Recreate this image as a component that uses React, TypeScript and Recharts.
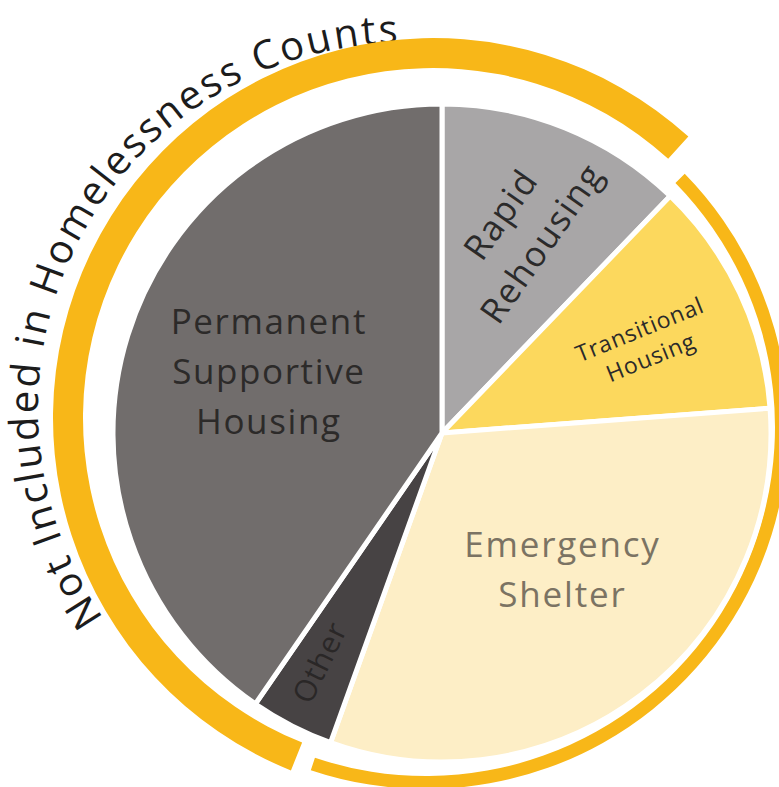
import React from "react";
import { PieChart, Pie, Cell, Customized } from "recharts";

// shares of beds by program type (percent), clockwise from 12 o'clock
const categories = [
  "Rapid Rehousing",
  "Transitional Housing",
  "Emergency Shelter",
  "Other",
  "Permanent Supportive Housing",
];
const shares = [12.2, 11.6, 31.7, 4.1, 40.4];
const includedInCounts = [false, true, true, false, false];
const labelLines = [
  ["Rapid", "Rehousing"],
  ["Transitional", "Housing"],
  ["Emergency", "Shelter"],
  ["Other"],
  ["Permanent", "Supportive", "Housing"],
];
const bracketTitle = "Not Included in Homelessness Counts";

const FONT = "'Open Sans', 'Noto Sans', sans-serif";
const RAD = Math.PI / 180;
const RING = "#f8b718";
const RING_GAP = 3.4;

const sliceColors = ["#a8a6a7", "#fcd85d", "#fdeec6", "#474344", "#716d6c"];

// label placement: radius as fraction of outer radius, clockwise shift from slice middle
const labelStyle = [
  { r: 0.666, shift: -0.8, rotate: -55, size: 35, lh: 50, ls: 1.6, color: "#2b2a2a" },
  { r: 0.675, shift: 1.4, rotate: -22, size: 23, lh: 30, ls: 0.8, color: "#2b2a2a" },
  { r: 0.553, shift: -4.2, rotate: 0, size: 35, lh: 50, ls: 1.8, color: "#7b7363" },
  { r: 0.79, shift: 0.9, rotate: -64, size: 30, lh: 30, ls: 0.8, color: "#2a2727" },
  { r: 0.559, shift: 2.4, rotate: 0, size: 35, lh: 50, ls: 1.6, color: "#2c2a29" },
];

const data = categories.map((name, i) => ({ name, value: shares[i] }));

const includedShare = shares.reduce((s, v, i) => (includedInCounts[i] ? s + v : s), 0);
const excludedShare = shares.reduce((s, v, i) => (includedInCounts[i] ? s : s + v), 0);
const ringData = [
  { name: "Included", value: includedShare },
  { name: "Not included", value: excludedShare },
];
// the included group starts right after the first slice
const ringStart = 90 - (shares[0] * 3.6 + RING_GAP / 2);

const renderLabel = (props: any) => {
  const { cx, cy, midAngle, outerRadius, index } = props;
  const s = labelStyle[index];
  const lines = labelLines[index];
  const a = (midAngle - s.shift) * RAD;
  const x = cx + outerRadius * s.r * Math.cos(a);
  const y = cy - outerRadius * s.r * Math.sin(a);
  const y0 = y - ((lines.length - 1) * s.lh) / 2 + s.size * 0.357;
  return (
    <text
      key={`lbl-${index}`}
      x={x}
      y={y0}
      textAnchor="middle"
      fill={s.color}
      stroke="none"
      fontSize={s.size}
      fontFamily={FONT}
      letterSpacing={s.ls}
      transform={`rotate(${s.rotate} ${x} ${y})`}
    >
      {lines.map((l, i) => (
        <tspan key={i} x={x} y={y0 + i * s.lh}>
          {l}
        </tspan>
      ))}
    </text>
  );
};

const BracketTitle = () => (
  <g>
    <path
      id="bracket-arc"
      d="M 103.5 617.9 A 366 366 0 0 1 435.9 44.4"
      fill="none"
      stroke="none"
    />
    <text
      fill="#1c1c1c"
      fontSize={40}
      fontWeight={400}
      fontFamily={FONT}
      letterSpacing={2.5}
    >
      <textPath href="#bracket-arc">{bracketTitle}</textPath>
    </text>
  </g>
);

export default function App() {
  return (
    <div
      style={{
        position: "absolute",
        left: 0,
        top: 0,
        width: 779,
        height: 787,
        background: "#fff",
      }}
    >
      <PieChart width={779} height={787} style={{ fontFamily: FONT }}>
        {/* bracket for programs included in counts */}
        <Pie
          data={ringData}
          dataKey="value"
          cx={421}
          cy={422}
          innerRadius={349}
          outerRadius={362}
          startAngle={ringStart}
          endAngle={ringStart - 360}
          paddingAngle={RING_GAP}
          stroke="none"
          isAnimationActive={false}
        >
          <Cell fill={RING} />
          <Cell fill="none" />
        </Pie>
        {/* bracket for programs not included */}
        <Pie
          data={ringData}
          dataKey="value"
          cx={428}
          cy={413}
          innerRadius={350}
          outerRadius={380}
          startAngle={ringStart}
          endAngle={ringStart - 360}
          paddingAngle={RING_GAP}
          stroke="none"
          isAnimationActive={false}
        >
          <Cell fill="none" />
          <Cell fill={RING} />
        </Pie>
        <Pie
          data={data}
          dataKey="value"
          nameKey="name"
          cx={437}
          cy={428}
          outerRadius={329}
          startAngle={90}
          endAngle={-270}
          stroke="#fff"
          strokeWidth={5}
          label={renderLabel}
          labelLine={false}
          isAnimationActive={false}
        >
          {data.map((d, i) => (
            <Cell key={d.name} fill={sliceColors[i]} />
          ))}
        </Pie>
        <Customized component={BracketTitle} />
      </PieChart>
    </div>
  );
}
